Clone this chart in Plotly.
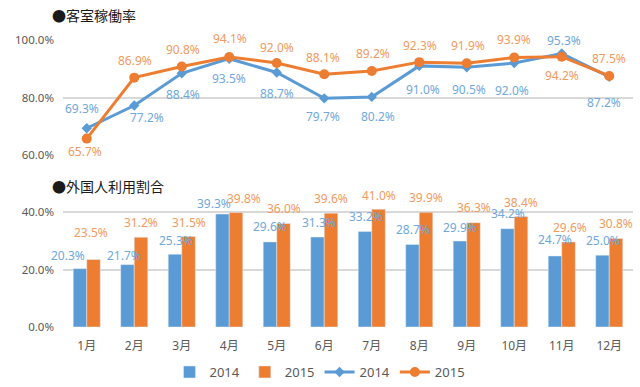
import plotly.graph_objects as go

months = ["1月", "2月", "3月", "4月", "5月", "6月", "7月", "8月", "9月", "10月", "11月", "12月"]
occ_2014 = [0.693, 0.772, 0.884, 0.935, 0.887, 0.797, 0.802, 0.910, 0.905, 0.920, 0.953, 0.872]
occ_2015 = [0.657, 0.869, 0.908, 0.941, 0.920, 0.881, 0.892, 0.923, 0.919, 0.939, 0.942, 0.875]
frn_2014 = [0.203, 0.217, 0.253, 0.393, 0.296, 0.313, 0.332, 0.287, 0.299, 0.342, 0.247, 0.250]
frn_2015 = [0.235, 0.312, 0.315, 0.398, 0.360, 0.396, 0.410, 0.399, 0.363, 0.384, 0.296, 0.308]
series_names = ["2014", "2015"]
title_top = "●客室稼働率"
title_bottom = "●外国人利用割合"

# label offsets (pixels; positive yshift = up)
occ14_dx = [-5, 13, 1, 0, 0, -1, 6, 4, 2, -2, 2, -5]
occ14_dy = [20, -12, -21, -20, -21, -18, -20, -24, -22, -27, 13, -26]
occ15_dx = [-2, 1, 1, 1, 0, -1, 1, 1, 1, 0, 0, 0]
occ15_dy = [-13, 17, 17, 18, 16, 17, 18, 17, 18, 18, -19, 17]
frn14_dx = [-12, -3.5, 1, -9, 0, 1.5, 1, 0, 0, 0, 0, 0]
frn14_dy = [13.6, 9.6, 14, 11, 15, 15, 15, 14.5, 14, 14.7, 16, 15]
frn15_dx = [-2.5, 0, 0, 8, 0, 0, 0, 0, 0, 0, 1.5, 0]
frn15_dy = [26.7, 14.6, 13.7, 13.6, 14.5, 15, 14, 14.6, 15, 14.3, 14.6, 15.4]

BLUE = "#5B9BD5"
ORANGE = "#ED7D31"
BLUE_T = "#6FA8DC"
ORANGE_T = "#F29A5E"
GRID = "#D9D9D9"
TXT = "#595959"
FONT = "Noto Sans, Noto Sans CJK JP, sans-serif"
BAR_HALF = 6.75

fig = go.Figure()

fig.add_trace(go.Bar(x=months, y=frn_2014, name=series_names[0], marker_color=BLUE,
                     xaxis="x2", yaxis="y2"))
fig.add_trace(go.Bar(x=months, y=frn_2015, name=series_names[1], marker_color=ORANGE,
                     xaxis="x2", yaxis="y2"))
fig.add_trace(go.Scatter(x=months, y=occ_2014, name=series_names[0], mode="lines+markers",
                         line=dict(color=BLUE, width=3),
                         marker=dict(symbol="diamond", size=8, color=BLUE),
                         xaxis="x", yaxis="y"))
fig.add_trace(go.Scatter(x=months, y=occ_2015, name=series_names[1], mode="lines+markers",
                         line=dict(color=ORANGE, width=3),
                         marker=dict(symbol="circle", size=10, color=ORANGE),
                         xaxis="x", yaxis="y"))

ann = []
def lab(x, y, xr, yr, dx, dy, color):
    ann.append(dict(x=x, y=y, xref=xr, yref=yr, text=f"{y*100:.1f}%", showarrow=False,
                    xshift=dx, yshift=dy, xanchor="center", yanchor="middle",
                    font=dict(family=FONT, size=12, color=color)))

for i, m in enumerate(months):
    lab(m, occ_2014[i], "x", "y", occ14_dx[i], occ14_dy[i], BLUE_T)
    lab(m, occ_2015[i], "x", "y", occ15_dx[i], occ15_dy[i], ORANGE_T)
    lab(m, frn_2014[i], "x2", "y2", frn14_dx[i] - BAR_HALF, frn14_dy[i], BLUE_T)
    lab(m, frn_2015[i], "x2", "y2", frn15_dx[i] + BAR_HALF, frn15_dy[i], ORANGE_T)

for t, yy in [(title_top, 1 - 15 / 387), (title_bottom, 1 - 186 / 387)]:
    ann.append(dict(x=50 / 640, y=yy, xref="paper", yref="paper", text=t, showarrow=False,
                    xanchor="left", yanchor="middle",
                    font=dict(family="Noto Sans CJK JP", size=14, color="#1a1a1a")))

xdom = [63 / 640, 633 / 640]
axis_font = dict(family=FONT, size=11.5, color=TXT)

fig.update_layout(
    width=640, height=387,
    margin=dict(l=0, r=0, t=0, b=0, autoexpand=False),
    paper_bgcolor="white", plot_bgcolor="white",
    barmode="group", bargap=0.43, bargroupgap=0,
    showlegend=True,
    legend=dict(orientation="h", x=0.5, xanchor="center", y=1 - 372 / 387, yanchor="middle",
                font=dict(family=FONT, size=13, color=TXT), itemwidth=30,
                bgcolor="rgba(0,0,0,0)"),
    annotations=ann,
    xaxis=dict(domain=xdom, anchor="y", showticklabels=False, showgrid=False,
               showline=False, zeroline=False, range=[-0.5, 11.5], type="category",
               categoryorder="array", categoryarray=months, automargin=False),
    yaxis=dict(domain=[1 - 155 / 387, 1 - 40 / 387], anchor="x", range=[0.6, 1.0],
               tickvals=[0.6, 0.8, 1.0], tickformat=".1%", gridcolor=GRID, gridwidth=1.5,
               zeroline=False, showline=False, tickfont=axis_font, ticklabelstandoff=8,
               automargin=False),
    xaxis2=dict(domain=xdom, anchor="y2", showgrid=False, showline=False, zeroline=False,
                range=[-0.5, 11.5], type="category", categoryorder="array",
                categoryarray=months, tickfont=dict(family=FONT, size=12, color=TXT),
                ticklabelstandoff=10, automargin=False),
    yaxis2=dict(domain=[1 - 327 / 387, 1 - 206.25 / 387], anchor="x2", range=[0, 0.42],
                tickvals=[0, 0.2, 0.4], tickformat=".1%", gridcolor=GRID, gridwidth=1.5,
                zeroline=False, showline=False, tickfont=axis_font, ticklabelstandoff=8,
                automargin=False),
)

fig.write_html("out.html", config={"displayModeBar": False},
               post_script="document.body.style.margin='0';document.body.style.overflow='hidden';")
